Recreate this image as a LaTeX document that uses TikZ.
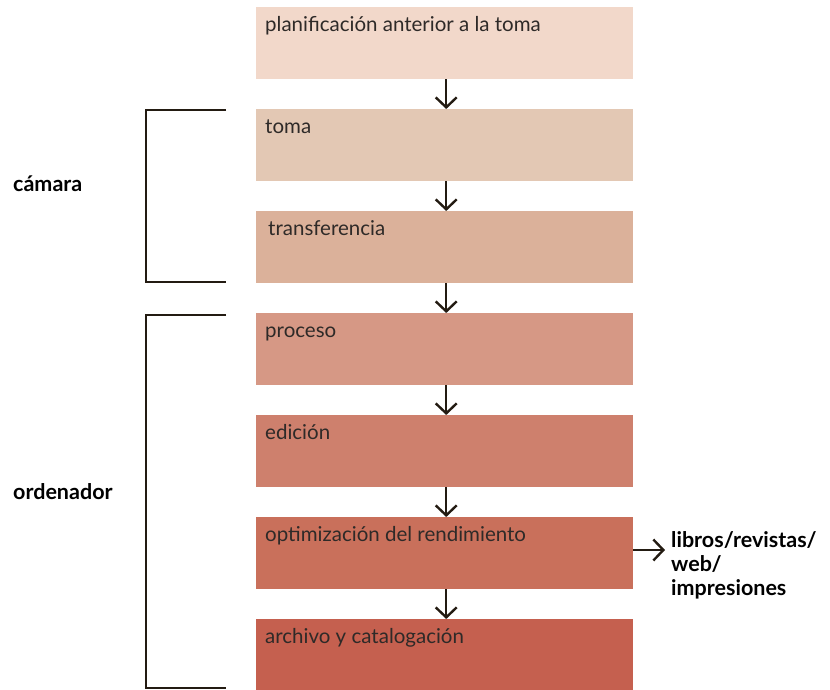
\documentclass[tikz,border=0pt]{standalone}
\usepackage{fontspec}
\setmainfont{Lato}
\usetikzlibrary{arrows.meta}
\definecolor{ink}{HTML}{231B12}
\definecolor{txt}{HTML}{2E2A28}
\definecolor{cA}{HTML}{F2D8CA}
\definecolor{cB}{HTML}{E3C8B4}
\definecolor{cC}{HTML}{DBB19A}
\definecolor{cD}{HTML}{D69885}
\definecolor{cE}{HTML}{CE806D}
\definecolor{cF}{HTML}{C9705B}
\definecolor{cG}{HTML}{C5604F}
\tikzset{
  x=1pt, y=-1pt,
  stage/.style={fill=#1, draw=none, minimum width=377pt, minimum height=72pt,
    anchor=north west, inner sep=0pt},
  stagetext/.style={anchor=base west, inner sep=0pt, text=txt, font=\fontsize{20.5}{24}\selectfont},
  flow/.style={draw=ink, line width=2.4pt, -{Straight Barb[length=10pt,width=21pt,line width=2.4pt]}},
  bracket/.style={draw=ink, line width=2.2pt},
  side/.style={anchor=west, inner sep=0pt, text=black, font=\fontsize{21.5}{24}\selectfont\bfseries, align=left}
}
\begin{document}
\begin{tikzpicture}
\useasboundingbox (0,0) rectangle (830,689);
% process stages
\node[stage=cA] (s1) at (256,7) {};
\node[stage=cB] (s2) at (256,109) {};
\node[stage=cC] (s3) at (256,211) {};
\node[stage=cD] (s4) at (256,313) {};
\node[stage=cE] (s5) at (256,415) {};
\node[stage=cF] (s6) at (256,517) {};
\node[stage=cG] (s7) at (256,619) {};
\node[stagetext] (t1) at (265,31.5) {planificación anterior a la toma};
\node[stagetext] (t2) at (265,133.5) {toma};
\node[stagetext] (t3) at (268,235.5) {transferencia};
\node[stagetext] (t4) at (265,337.5) {proceso};
\node[stagetext] (t5) at (265,439.5) {edición};
\node[stagetext] (t6) at (265,541.5) {optimización del rendimiento};
\node[stagetext] (t7) at (265,643.5) {archivo y catalogación};
% arrows between stages
\foreach \a/\b in {s1/s2,s2/s3,s3/s4,s4/s5,s5/s6,s6/s7}
  \draw[flow] ([xshift=1.5pt]\a.south) -- ([xshift=1.5pt]\b.north);
% output destinations
\node[side] (out) at (671,565) {libros/revistas/\\web/\\impresiones};
\draw[flow] (s6.east |- 0,550) -- (665,550);
% device groupings
\draw[bracket] (226,110) -- (146,110) -- (146,282) -- (226,282);
\draw[bracket] (226,315) -- (146,315) -- (146,688) -- (226,688);
\node[side] (cam) at (13,184) {cámara};
\node[side] (ord) at (13,492) {ordenador};
\end{tikzpicture}
\end{document}
